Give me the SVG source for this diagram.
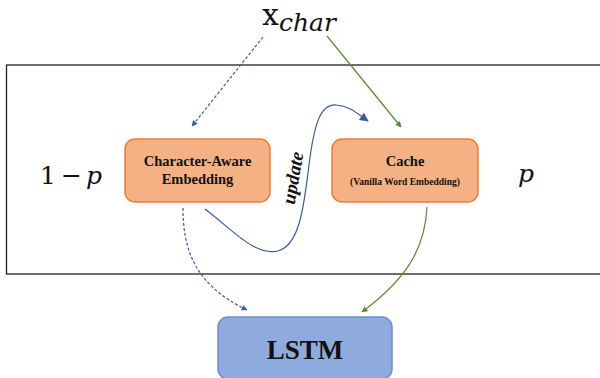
<svg xmlns="http://www.w3.org/2000/svg" width="600" height="378" viewBox="0 0 600 378">
<style>
.orange{fill:#f4b183;stroke:#ed7d31;stroke-width:1.5}
.blue{fill:#8faadc;stroke:#6b8fcc;stroke-width:1.5}
.lbl{font-family:'Liberation Serif','Times New Roman',Times,serif;font-weight:700;fill:#111;text-anchor:middle}
.math{font-family:'DejaVu Serif','Liberation Serif',serif;fill:#111}
.cb{fill:none;stroke:#3a5ba6;stroke-width:1.2}
.cg{fill:none;stroke:#5a8a32;stroke-width:1.2}
</style>
<defs>
<marker id="ab" viewBox="0 0 10 10" refX="9" refY="5" markerWidth="6" markerHeight="6" orient="auto" markerUnits="userSpaceOnUse"><path d="M0,0 L10,5 L0,10 z" fill="#3a5ba6"/></marker>
<marker id="ab2" viewBox="0 0 10 10" refX="9" refY="5" markerWidth="10" markerHeight="9" orient="auto" markerUnits="userSpaceOnUse"><path d="M0,0 L10,5 L0,10 z" fill="#3a5ba6"/></marker>
<marker id="ag" viewBox="0 0 10 10" refX="9" refY="5" markerWidth="6" markerHeight="6" orient="auto" markerUnits="userSpaceOnUse"><path d="M0,0 L10,5 L0,10 z" fill="#5a8a32"/></marker>
</defs>
<rect x="0" y="0" width="600" height="378" fill="#fff"/>
<rect id="frame" x="6.5" y="65" width="600" height="209" fill="none" stroke="#222" stroke-width="1.3"/>
<g id="xchar">
<text class="math" x="262" y="25" font-size="30">x<tspan font-size="25" font-style="italic" dy="6">char</tspan></text>
</g>
<g id="one-minus-p">
<text class="math" x="40" y="184" font-size="25">1</text>
<text class="math" x="61" y="184" font-size="25">−</text>
<text class="math" x="86" y="184" font-size="25" font-style="italic">p</text>
</g>
<g id="p"><text class="math" x="518" y="182" font-size="25" font-style="italic">p</text></g>
<g id="connectors">
<path class="cb" d="M263,37 L192,126" stroke-dasharray="3,2" marker-end="url(#ab)"/>
<path class="cg" d="M327,36 L401,127" marker-end="url(#ag)"/>
<path class="cb" d="M205,209 C235,232 255,256 278,251 C300,245 304,205 309,165 C314,125 320,104 336,105 C350,106 358,114 368,121" marker-end="url(#ab2)"/>
<path class="cb" d="M183,208 C183,250 195,285 247,310" stroke-dasharray="3,2" marker-end="url(#ab)"/>
<path class="cg" d="M427,207 C425,250 405,280 362,312" marker-end="url(#ag)"/>
<text class="lbl" transform="translate(299,179) rotate(-80)" font-size="19" font-style="italic">update</text>
</g>
<g id="char-emb">
<rect class="orange" x="125" y="139" width="145" height="63" rx="10"/>
<text class="lbl" x="197.5" y="166" font-size="14.5">Character-Aware</text>
<text class="lbl" x="197.5" y="184" font-size="14.5">Embedding</text>
</g>
<g id="cache">
<rect class="orange" x="332" y="139" width="146" height="63" rx="10"/>
<text class="lbl" x="405" y="166" font-size="14.5">Cache</text>
<text class="lbl" x="405" y="185" font-size="9.5">(Vanilla Word Embedding)</text>
</g>
<g id="lstm">
<rect class="blue" x="218" y="317" width="174" height="62" rx="10"/>
<text class="lbl" x="305" y="359" font-size="27">LSTM</text>
</g>
</svg>
